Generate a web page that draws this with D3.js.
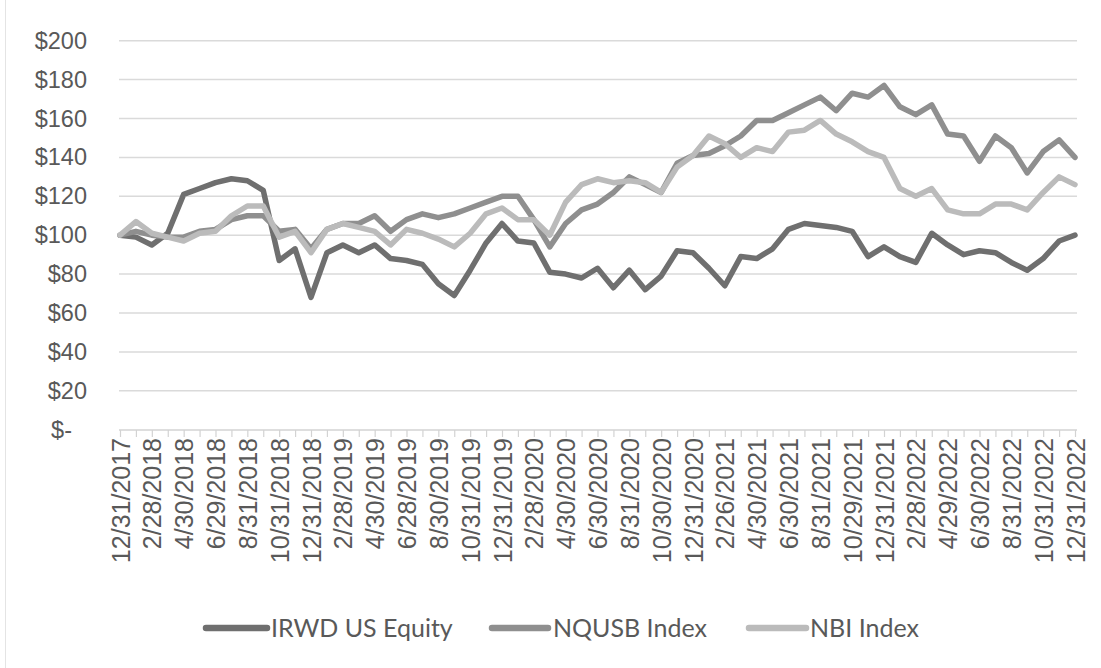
<!DOCTYPE html>
<html>
<head>
<meta charset="utf-8">
<script src="https://cdn.jsdelivr.net/npm/d3@7"></script>
<style>
  html, body { margin: 0; padding: 0; background: #ffffff; }
  svg { display: block; font-family: Lato, "Open Sans", sans-serif; }
</style>
</head>
<body>
<svg id="chart" width="1101" height="668"></svg>
<script>
// Month-end dates, Dec 2017 – Dec 2022
const categories = [
  "12/31/2017","1/31/2018","2/28/2018","3/29/2018","4/30/2018","5/31/2018","6/29/2018","7/31/2018","8/31/2018","9/28/2018","10/31/2018","11/30/2018",
  "12/31/2018","1/31/2019","2/28/2019","3/29/2019","4/30/2019","5/31/2019","6/28/2019","7/31/2019","8/30/2019","9/30/2019","10/31/2019","11/29/2019",
  "12/31/2019","1/31/2020","2/28/2020","3/31/2020","4/30/2020","5/29/2020","6/30/2020","7/31/2020","8/31/2020","9/30/2020","10/30/2020","11/30/2020",
  "12/31/2020","1/29/2021","2/26/2021","3/31/2021","4/30/2021","5/28/2021","6/30/2021","7/30/2021","8/31/2021","9/30/2021","10/29/2021","11/30/2021",
  "12/31/2021","1/31/2022","2/28/2022","3/31/2022","4/29/2022","5/31/2022","6/30/2022","7/29/2022","8/31/2022","9/30/2022","10/31/2022","11/30/2022",
  "12/31/2022"
];

// Growth of $100
const irwd = [
  100, 99, 95, 101, 121, 124, 127, 129, 128, 123, 87, 93,
  68, 91, 95, 91, 95, 88, 87, 85, 75, 69, 82, 96,
  106, 97, 96, 81, 80, 78, 83, 73, 82, 72, 79, 92,
  91, 83, 74, 89, 88, 93, 103, 106, 105, 104, 102, 89,
  94, 89, 86, 101, 95, 90, 92, 91, 86, 82, 88, 97,
  100
];
const nqusb = [
  100, 102, 100, 99, 99, 102, 103, 108, 110, 110, 102, 103,
  93, 103, 106, 106, 110, 102, 108, 111, 109, 111, 114, 117,
  120, 120, 108, 94, 106, 113, 116, 122, 130, 126, 122, 137,
  141, 142, 146, 151, 159, 159, 163, 167, 171, 164, 173, 171,
  177, 166, 162, 167, 152, 151, 138, 151, 145, 132, 143, 149,
  140
];
const nbi = [
  100, 107, 101, 99, 97, 101, 102, 110, 115, 115, 99, 102,
  91, 103, 106, 104, 102, 95, 103, 101, 98, 94, 101, 111,
  114, 108, 108, 100, 117, 126, 129, 127, 128, 127, 122, 135,
  141, 151, 147, 140, 145, 143, 153, 154, 159, 152, 148, 143,
  140, 124, 120, 124, 113, 111, 111, 116, 116, 113, 122, 130,
  126
];

const seriesNames = ["IRWD US Equity", "NQUSB Index", "NBI Index"];
const seriesColors = ["#6f6f6f", "#8f8f8f", "#bbbbbb"];
const yTickValues = [0, 20, 40, 60, 80, 100, 120, 140, 160, 180, 200];
const yTickLabels = ["$-", "$20", "$40", "$60", "$80", "$100", "$120", "$140", "$160", "$180", "$200"];

const series = [irwd, nqusb, nbi].map((values, k) => ({
  name: seriesNames[k],
  color: seriesColors[k],
  values
}));

const svg = d3.select("#chart");
const textColor = "#595959";

// faint outer frame on the left
svg.append("line")
  .attr("x1", 5.5).attr("x2", 5.5).attr("y1", 0).attr("y2", 668)
  .attr("stroke", "#e4e4e4").attr("stroke-width", 1);

const x = d3.scalePoint().domain(categories).range([120, 1075]);
const y = d3.scaleLinear().domain([0, 200]).range([429.7, 40.7]);

// horizontal gridlines
svg.append("g")
  .selectAll("line")
  .data(yTickValues.filter(v => v > 0))
  .join("line")
  .attr("x1", 119).attr("x2", 1077)
  .attr("y1", d => y(d)).attr("y2", d => y(d))
  .attr("stroke", "#dadada").attr("stroke-width", 1.5);

// y axis labels
const yAxis = d3.axisLeft(y)
  .tickValues(yTickValues)
  .tickSize(0)
  .tickPadding(0)
  .tickFormat((d, i) => yTickLabels[i]);
const gy = svg.append("g").attr("transform", "translate(87,0)").call(yAxis);
gy.select(".domain").remove();
gy.selectAll("text")
  .attr("fill", textColor)
  .style("font-size", "23.5px")
  .attr("dx", d => d === 0 ? -15 : 0);

// x axis with monthly ticks, labels every second month
const xAxis = d3.axisBottom(x)
  .tickSize(7)
  .tickSizeOuter(0)
  .tickFormat((d, i) => i % 2 === 0 ? d : "");
const gx = svg.append("g").attr("transform", "translate(0,430)").call(xAxis);
gx.select(".domain").attr("stroke", "#d3d3d3").attr("stroke-width", 1.5)
  .attr("d", "M119,0H1077");
gx.selectAll(".tick line").attr("stroke", "#d3d3d3").attr("stroke-width", 1.2);
gx.selectAll("text")
  .attr("fill", textColor)
  .style("font-size", "25px")
  .attr("transform", "rotate(-90)")
  .attr("x", -8)
  .attr("y", 0)
  .attr("dy", "0.36em")
  .style("text-anchor", "end");

// series lines
const line = d3.line()
  .x((d, i) => x(categories[i]))
  .y(d => y(d));

svg.append("g")
  .selectAll("path")
  .data(series)
  .join("path")
  .attr("d", s => line(s.values))
  .attr("fill", "none")
  .attr("stroke", s => s.color)
  .attr("stroke-width", 5.5)
  .attr("stroke-linejoin", "round")
  .attr("stroke-linecap", "round");

// legend
const legendItems = [
  { x0: 206, x1: 267, tx: 271 },
  { x0: 492, x1: 548, tx: 553 },
  { x0: 749, x1: 806, tx: 810 }
];
const legend = svg.append("g").attr("transform", "translate(0,628)");
const li = legend.selectAll("g")
  .data(series)
  .join("g");
li.append("line")
  .attr("x1", (d, i) => legendItems[i].x0)
  .attr("x2", (d, i) => legendItems[i].x1)
  .attr("y1", 0).attr("y2", 0)
  .attr("stroke", d => d.color)
  .attr("stroke-width", 6.5)
  .attr("stroke-linecap", "round");
li.append("text")
  .attr("x", (d, i) => legendItems[i].tx)
  .attr("y", 0)
  .attr("dy", "0.36em")
  .attr("fill", textColor)
  .style("font-size", "25px")
  .text(d => d.name);
</script>
</body>
</html>
